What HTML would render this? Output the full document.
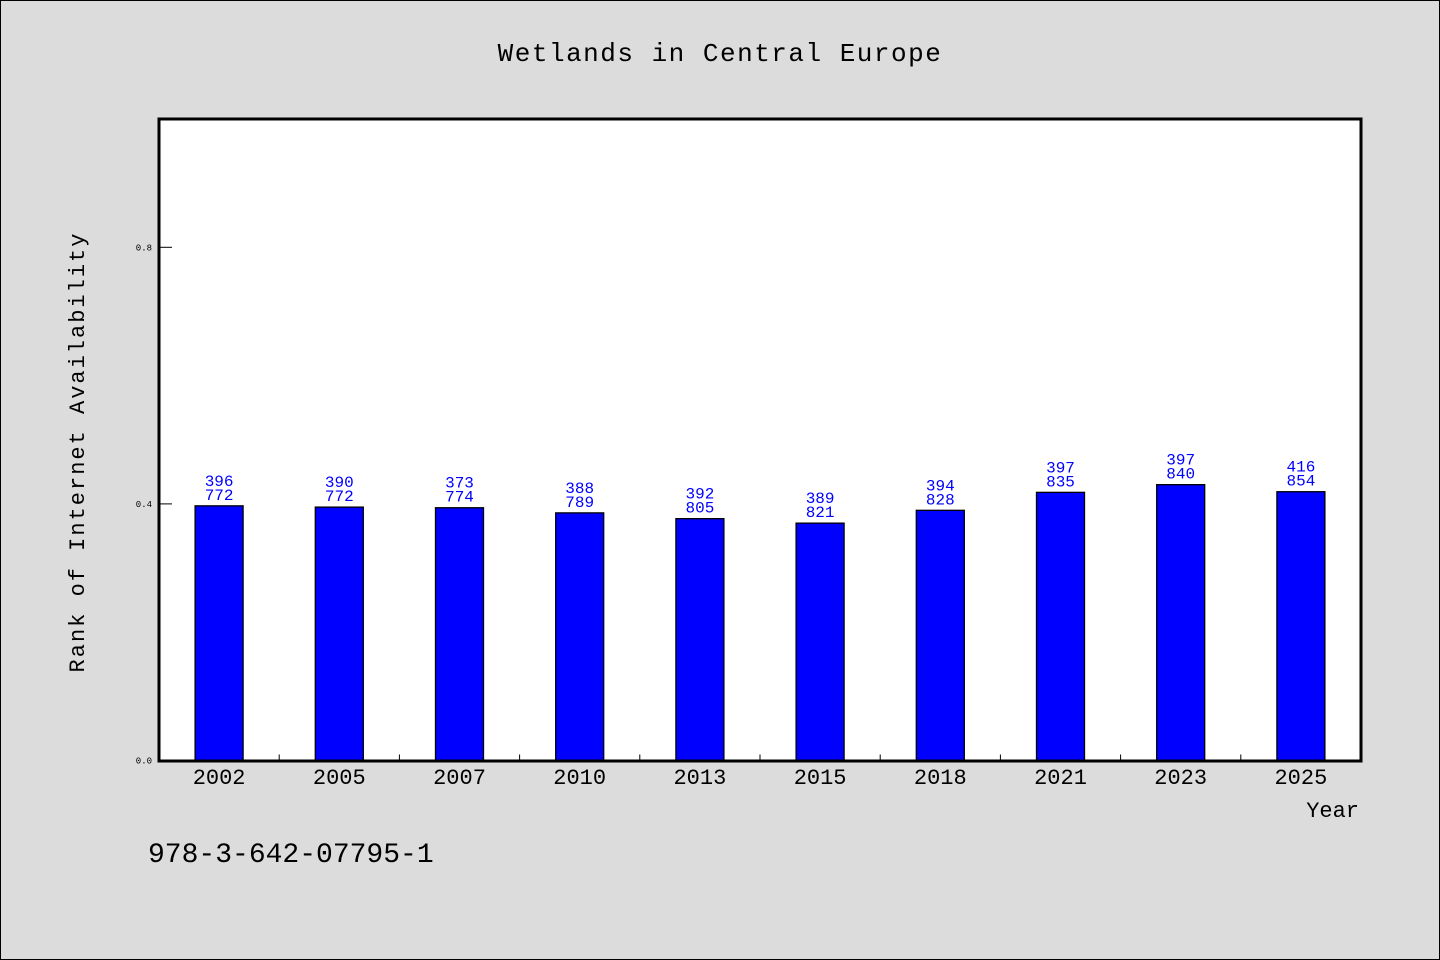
<!DOCTYPE html>
<html><head><meta charset="utf-8"><style>
html,body{margin:0;padding:0;background:#dcdcdc;}
svg{display:block;}
text{font-family:"WenQuanYi Zen Hei","Liberation Mono",monospace;}
</style></head><body>
<svg width="1440" height="960" viewBox="0 0 1440 960">
<rect x="0.5" y="0.5" width="1439" height="959" fill="#dcdcdc" stroke="#000"/>
<text x="720" y="61" text-anchor="middle" font-size="26" letter-spacing="1.5">Wetlands in Central Europe</text>
<rect x="159" y="119" width="1202" height="642" fill="#fff"/>
<g id="bars"></g>
<g id="axes"></g>
<rect x="159" y="119" width="1202" height="642" fill="none" stroke="#000" stroke-width="3"/>
<text transform="translate(84,452) rotate(-90)" text-anchor="middle" font-size="22" letter-spacing="2">Rank of Internet Availability</text>
<text x="1359" y="817" text-anchor="end" font-size="22">Year</text>
<text x="148" y="862" font-size="28">978-3-642-07795-1</text>
</svg>
<script>
const categories=["2002","2005","2007","2010","2013","2015","2018","2021","2023","2025"];
const values=[0.397,0.395,0.394,0.386,0.377,0.370,0.390,0.418,0.430,0.419];
const labelTop=["396","390","373","388","392","389","394","397","397","416"];
const labelBottom=["772","772","774","789","805","821","828","835","840","854"];
const yTicks=[0.0,0.4,0.8];
const yTickLabels=["0.0","0.4","0.8"];
const NS="http://www.w3.org/2000/svg";
const L=159,R=1361,T=119,B=760.5,yMax=1.0;
const band=(R-L)/categories.length;
function x(i){return L+band*i+band/2;}
function y(v){return B-(B-T)*v/yMax;}
function mk(tag,attrs,parent){const e=document.createElementNS(NS,tag);for(const k in attrs)e.setAttribute(k,attrs[k]);parent.appendChild(e);return e;}
const gb=document.getElementById('bars'),ga=document.getElementById('axes');
categories.forEach((c,i)=>{
  const bw=48;
  const r=mk('rect',{x:x(i)-bw/2,y:y(values[i]),width:bw,height:B-y(values[i]),fill:'#0000ff',stroke:'#000','stroke-width':1.3},gb);
  
  
  const t1=mk('text',{x:x(i),y:y(values[i])-20,'text-anchor':'middle','font-size':16,fill:'#0000ff'},gb);
  t1.textContent=labelTop[i];
  
  
  const t2=mk('text',{x:x(i),y:y(values[i])-6,'text-anchor':'middle','font-size':16,fill:'#0000ff'},gb);
  t2.textContent=labelBottom[i];
  
  
  const xl=mk('text',{x:x(i),y:784,'text-anchor':'middle','font-size':22},ga);
  xl.textContent=c;
  
  
  if(i>0){
    const tk=mk('line',{x1:L+band*i,x2:L+band*i,y1:B,y2:B-6,stroke:'#000','stroke-width':1},ga);
    
    
  }
});
yTicks.forEach((v,i)=>{
  const tk=mk('line',{x1:L,x2:L+13,y1:y(v),y2:y(v),stroke:'#000','stroke-width':1},ga);
  
  
  const tl=mk('text',{x:152,y:y(v)+3,'text-anchor':'end','font-size':9},ga);
  tl.textContent=yTickLabels[i];
  
  
});
</script>
</body></html>
